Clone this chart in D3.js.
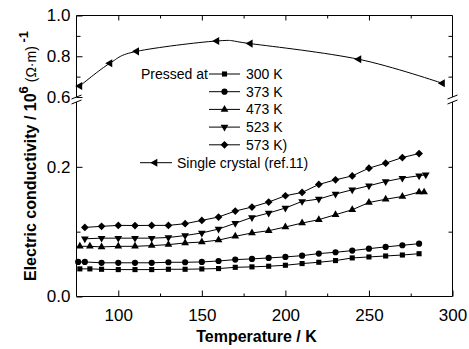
<!DOCTYPE html>
<html>
<head>
<meta charset="utf-8">
<script src="https://cdnjs.cloudflare.com/ajax/libs/d3/7.8.5/d3.min.js"></script>
<style>
  body { margin: 0; background: #fff; }
  svg { font-family: "Liberation Sans", Arial, sans-serif; }
</style>
</head>
<body>
<div id="chart"></div>
<script>
// --- Data ---
var tempsA = [77, 83, 90, 100, 110, 120, 130, 140, 150, 160, 170, 180, 190, 200, 210, 220, 230, 240, 250, 260, 270, 280];
var tempsB = [76, 80, 90, 100, 110, 120, 130, 140, 150, 160, 170, 180, 190, 200, 210, 220, 230, 240, 250, 260, 270, 280];
var tempsC = [80, 90, 100, 110, 120, 130, 140, 150, 160, 170, 180, 190, 200, 210, 220, 230, 240, 250, 260, 270, 280];
var tempsD = [80, 90, 100, 110, 120, 130, 140, 150, 160, 170, 180, 190, 200, 210, 220, 230, 240, 250, 260, 270, 280, 284];
var tempsE = [77, 83, 90, 100, 110, 120, 130, 140, 150, 160, 170, 180, 190, 200, 210, 220, 230, 240, 250, 260, 270, 280, 283];

var p300 = [0.0426, 0.0426, 0.0420, 0.0415, 0.0415, 0.0415, 0.0420, 0.0420, 0.0425, 0.0431, 0.0450, 0.0457, 0.0467, 0.0482, 0.0508, 0.0528, 0.0554, 0.0595, 0.0610, 0.0625, 0.0640, 0.0660];
var p373 = [0.0533, 0.0533, 0.0520, 0.0520, 0.0520, 0.0520, 0.0528, 0.0528, 0.0533, 0.0548, 0.0569, 0.0580, 0.0595, 0.0610, 0.0630, 0.0662, 0.0682, 0.0708, 0.0738, 0.0765, 0.0790, 0.0815];
var p473 = [0.0774, 0.0774, 0.0765, 0.0774, 0.0774, 0.0785, 0.0800, 0.0826, 0.0840, 0.0870, 0.0928, 0.0980, 0.1015, 0.1072, 0.1133, 0.1185, 0.1262, 0.1338, 0.1450, 0.1500, 0.1543, 0.1610, 0.1610];
var p523 = [0.0890, 0.0900, 0.0900, 0.0900, 0.0900, 0.0910, 0.0940, 0.0980, 0.1040, 0.1130, 0.1220, 0.1287, 0.1365, 0.1467, 0.1503, 0.1580, 0.1646, 0.1708, 0.1774, 0.1826, 0.1862, 0.1877];
var p573 = [0.1066, 0.1082, 0.1097, 0.1095, 0.1097, 0.1097, 0.1123, 0.1174, 0.1226, 0.1318, 0.1380, 0.1457, 0.1554, 0.1605, 0.1728, 0.1800, 0.1860, 0.1980, 0.2057, 0.2143, 0.2205];

var crystalT = [77, 95, 111, 159, 179, 244, 294];
var crystalV = [0.654, 0.766, 0.824, 0.875, 0.862, 0.785, 0.667];

var legendLabels = ["300 K", "373 K", "473 K", "523 K", "573 K)"];

// --- Canvas ---
var svg = d3.select("#chart").append("svg")
    .attr("width", 469)
    .attr("height", 349);

var plotLeft = 76.5, plotRight = 452.5, plotTop = 15.5, plotBottom = 296.5;

var x = d3.scaleLinear().domain([75, 300]).range([plotLeft, plotRight]);
var yLow = d3.scaleLinear().domain([0, 0.3]).range([plotBottom, 102]);
var yUp = d3.scaleLinear().domain([0.6, 1.0]).range([97, plotTop]);

// --- Axes ---
function styleAxis(g) {
    g.select(".domain").remove();
    g.selectAll("line").attr("stroke", "#000");
    g.selectAll("text").attr("fill", "#000").attr("font-size", "17px");
}

svg.append("g")
    .attr("transform", "translate(0," + plotBottom + ")")
    .call(d3.axisBottom(x).tickValues([100, 150, 200, 250, 300]).tickSize(-6).tickPadding(12))
    .call(styleAxis);
svg.append("g")
    .attr("transform", "translate(0," + plotBottom + ")")
    .call(d3.axisBottom(x).tickValues([125, 175, 225, 275]).tickSize(-3).tickFormat(""))
    .call(styleAxis);
svg.append("g")
    .attr("transform", "translate(0," + plotTop + ")")
    .call(d3.axisTop(x).tickValues([100, 150, 200, 250]).tickSize(-5).tickFormat(""))
    .call(styleAxis);
svg.append("g")
    .attr("transform", "translate(0," + plotTop + ")")
    .call(d3.axisTop(x).tickValues([125, 175, 225, 275]).tickSize(-3).tickFormat(""))
    .call(styleAxis);

// left axis
svg.append("g")
    .attr("transform", "translate(" + plotLeft + ",0)")
    .call(d3.axisLeft(yLow).tickValues([0, 0.2]).tickSize(-6).tickPadding(6).tickFormat(d3.format(".1f")))
    .call(styleAxis);
svg.append("g")
    .attr("transform", "translate(" + plotLeft + ",0)")
    .call(d3.axisLeft(yLow).tickValues([0.1]).tickSize(-4).tickFormat(""))
    .call(styleAxis);
svg.append("g")
    .attr("transform", "translate(" + plotLeft + ",0)")
    .call(d3.axisLeft(yUp).tickValues([0.6, 0.8, 1.0]).tickSize(-6).tickPadding(6).tickFormat(d3.format(".1f")))
    .call(styleAxis);
svg.append("g")
    .attr("transform", "translate(" + plotLeft + ",0)")
    .call(d3.axisLeft(yUp).tickValues([0.7, 0.9]).tickSize(-4).tickFormat(""))
    .call(styleAxis);

// right axis
svg.append("g")
    .attr("transform", "translate(" + plotRight + ",0)")
    .call(d3.axisRight(yLow).tickValues([0.1, 0.2]).tickSize(-4).tickFormat(""))
    .call(styleAxis);
svg.append("g")
    .attr("transform", "translate(" + plotRight + ",0)")
    .call(d3.axisRight(yUp).tickValues([0.7, 0.8, 0.9]).tickSize(-4).tickFormat(""))
    .call(styleAxis);

// frame with breaks
var frame = svg.append("g").attr("stroke", "#000").attr("stroke-width", 1).attr("fill", "none");
frame.append("line").attr("x1", plotLeft).attr("x2", plotRight).attr("y1", plotTop).attr("y2", plotTop);
frame.append("line").attr("x1", plotLeft).attr("x2", plotRight).attr("y1", plotBottom).attr("y2", plotBottom);
[plotLeft, plotRight].forEach(function(ax) {
    frame.append("line").attr("x1", ax).attr("x2", ax).attr("y1", plotTop).attr("y2", 97);
    frame.append("line").attr("x1", ax).attr("x2", ax).attr("y1", 102).attr("y2", plotBottom);
    frame.append("line").attr("x1", ax - 5).attr("x2", ax + 5).attr("y1", 99).attr("y2", 95);
    frame.append("line").attr("x1", ax - 5).attr("x2", ax + 5).attr("y1", 104).attr("y2", 100);
});

// --- Axis titles ---
svg.append("text")
    .attr("x", (plotLeft + plotRight) / 2 - 8)
    .attr("y", 342)
    .attr("text-anchor", "middle")
    .attr("font-size", "16px")
    .attr("font-weight", "bold")
    .text("Temperature / K");

var yTitle = svg.append("text")
    .attr("transform", "translate(36,156) rotate(-90)")
    .attr("text-anchor", "middle")
    .attr("font-size", "16px")
    .attr("font-weight", "bold");
yTitle.append("tspan").text("Electric conductivity / 10");
yTitle.append("tspan").attr("dy", -8).attr("font-size", "13px").text("6");
yTitle.append("tspan").attr("dy", 8).attr("font-size", "14px").attr("font-weight", "normal").text(" (\u03A9\u00B7m)");
yTitle.append("tspan").attr("dy", -8).attr("font-size", "13px").text(" -1");

// --- Markers ---
var shapes = {
    square: d3.symbol().type(d3.symbolSquare).size(26),
    circle: d3.symbol().type(d3.symbolCircle).size(30),
    up: d3.symbol().type(d3.symbolTriangle).size(26),
    down: d3.symbol().type(d3.symbolTriangle).size(26),
    diamond: d3.symbol().type(d3.symbolSquare).size(30),
    left: d3.symbol().type(d3.symbolTriangle).size(28)
};
var rotations = { square: 0, circle: 0, up: 0, down: 180, diamond: 45, left: -90 };

var series = [
    { t: tempsA, v: p300, shape: "square" },
    { t: tempsB, v: p373, shape: "circle" },
    { t: tempsE, v: p473, shape: "up" },
    { t: tempsD, v: p523, shape: "down" },
    { t: tempsC, v: p573, shape: "diamond" }
];

var line = d3.line()
    .x(function(d) { return x(d[0]); })
    .y(function(d) { return yLow(d[1]); });

series.forEach(function(s) {
    var pts = s.t.map(function(t, i) { return [t, s.v[i]]; });
    svg.append("path")
        .attr("d", line(pts))
        .attr("fill", "none")
        .attr("stroke", "#000")
        .attr("stroke-width", 1);
    svg.selectAll(null).data(pts).enter()
        .append("path")
        .attr("d", shapes[s.shape])
        .attr("transform", function(d) { return "translate(" + x(d[0]) + "," + yLow(d[1]) + ") rotate(" + rotations[s.shape] + ")"; })
        .attr("fill", "#000");
});

// single crystal curve
var crystal = crystalT.map(function(t, i) { return [t, crystalV[i]]; });
svg.append("path")
    .attr("d", d3.line()
        .x(function(d) { return x(d[0]); })
        .y(function(d) { return yUp(d[1]); })
        .curve(d3.curveCardinal.tension(0))(crystal))
    .attr("fill", "none")
    .attr("stroke", "#000")
    .attr("stroke-width", 1);
svg.selectAll(null).data(crystal).enter()
    .append("path")
    .attr("d", shapes.left)
    .attr("transform", function(d) { return "translate(" + x(d[0]) + "," + yUp(d[1]) + ") rotate(-90)"; })
    .attr("fill", "#000");

// --- Legend ---
var legend = svg.append("g").attr("font-size", "14px");
legend.append("text").attr("x", 141).attr("y", 79).text("Pressed at");
series.forEach(function(s, i) {
    var cy = 74 + i * 17.7;
    legend.append("line").attr("x1", 209).attr("x2", 240).attr("y1", cy).attr("y2", cy).attr("stroke", "#000");
    legend.append("path").attr("d", shapes[s.shape])
        .attr("transform", "translate(224.5," + cy + ") rotate(" + rotations[s.shape] + ")");
    legend.append("text").attr("x", 246).attr("y", cy + 5).text(legendLabels[i]);
});
var cyS = 162.7;
legend.append("line").attr("x1", 140).attr("x2", 172).attr("y1", cyS).attr("y2", cyS).attr("stroke", "#000");
legend.append("path").attr("d", shapes.left).attr("transform", "translate(155," + cyS + ") rotate(-90)");
legend.append("text").attr("x", 177).attr("y", cyS + 5).text("Single crystal (ref.11)");
</script>
</body>
</html>
